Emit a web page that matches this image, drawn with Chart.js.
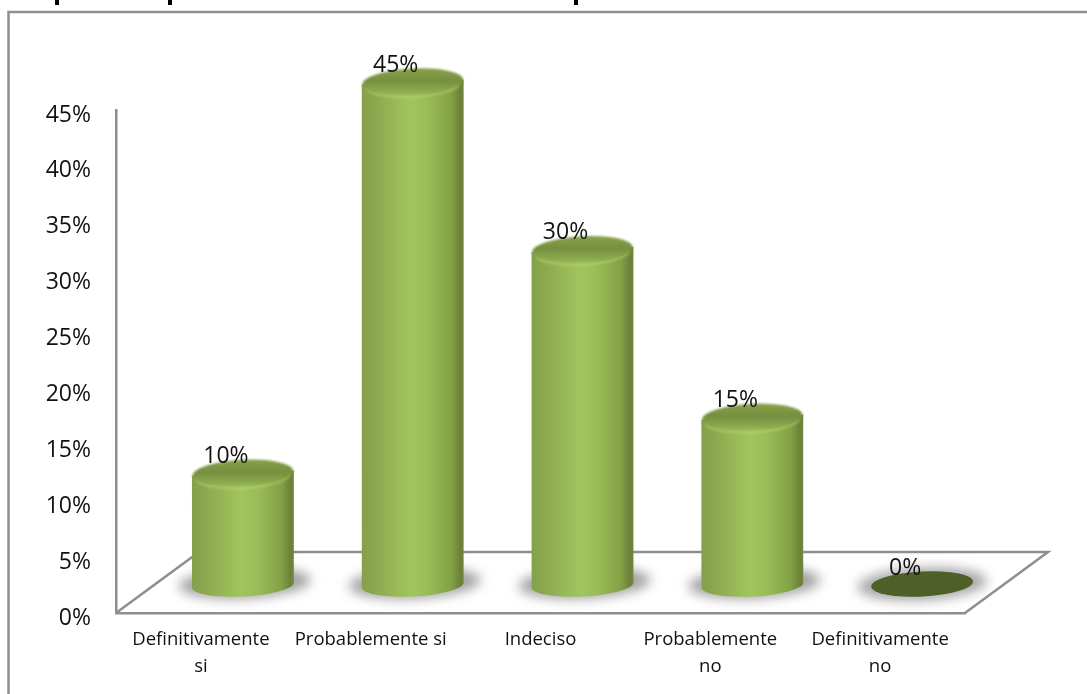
<!DOCTYPE html>
<html>
<head>
<meta charset="utf-8">
<style>
    html, body { margin: 0; background: #fff; }
    #wrap { width: 1087px; height: 694px; }
</style>
<script src="https://cdn.jsdelivr.net/npm/chart.js@4"></script>
</head>
<body>
<div id="wrap"><canvas id="chart"></canvas></div>
<script>
const categories = [
    ['Definitivamente', 'si'],
    ['Probablemente si'],
    ['Indeciso'],
    ['Probablemente', 'no'],
    ['Definitivamente', 'no']
];
const percentValues = [10, 45, 30, 15, 0];
const tickLabels = ['0%', '5%', '10%', '15%', '20%', '25%', '30%', '35%', '40%', '45%'];

const lineGrey = '#8e8e8e';
const labelFont = '"Open Sans", sans-serif';

// the columns stand mid-way back on the floor
const depthX = 42;
const depthY = -28;
const floorX = 83;
const floorY = -61;
const capRy = 13.5;
const baseRy = 11.5;
const tilt = -0.05;

function ellipsePath(ctx, cx, cy, rx, ry){
    ctx.beginPath();
    ctx.ellipse(cx, cy, rx, ry, tilt, 0, Math.PI * 2);
}

function drawShadow(ctx, cx, cy, rx, ry, colour){
    ctx.save();
    ctx.filter = 'blur(6px)';
    ctx.fillStyle = colour;
    ctx.beginPath();
    ctx.ellipse(cx, cy, rx, ry, tilt, 0, Math.PI * 2);
    ctx.fill();
    ctx.restore();
}

function drawCylinder(ctx, cx, top, base, halfW){
    const left = cx - halfW;
    const right = cx + halfW;
    const lift = Math.sin(-tilt) * halfW;

    const body = ctx.createLinearGradient(left, 0, right, 0);
    body.addColorStop(0, '#85a04a');
    body.addColorStop(0.1, '#8aa64d');
    body.addColorStop(0.48, '#a1c55e');
    body.addColorStop(0.64, '#9abd58');
    body.addColorStop(0.88, '#82a045');
    body.addColorStop(0.97, '#6b8039');
    body.addColorStop(1, '#72883c');

    ctx.save();
    ctx.filter = 'blur(0.6px)';
    ctx.fillStyle = body;
    ctx.beginPath();
    ctx.moveTo(left, top + lift);
    ctx.lineTo(right, top - lift);
    ctx.lineTo(right, base - lift);
    ctx.ellipse(cx, base, halfW, baseRy, tilt, 0, Math.PI);
    ctx.closePath();
    ctx.fill();

    // soft highlight along the lower edge of the top face
    ctx.filter = 'blur(1.5px)';
    ctx.strokeStyle = '#b6d56e';
    ctx.lineWidth = 2;
    ctx.beginPath();
    ctx.ellipse(cx, top + 1, halfW - 3, capRy, tilt, 0.25, Math.PI - 0.25);
    ctx.stroke();

    // top face
    const face = ctx.createLinearGradient(0, top - capRy, 0, top + capRy);
    face.addColorStop(0, '#88a248');
    face.addColorStop(0.45, '#758f40');
    face.addColorStop(0.85, '#8cab4e');
    face.addColorStop(1, '#9dbe59');
    ctx.filter = 'blur(0.8px)';
    ctx.fillStyle = face;
    ellipsePath(ctx, cx, top, halfW - 0.5, capRy);
    ctx.fill();
    ctx.restore();
}

const floorPlugin = {
    id: 'floor',
    beforeDatasetsDraw(chart){
        const {ctx, chartArea} = chart;
        const {left, right, bottom} = chartArea;
        ctx.save();
        ctx.strokeStyle = lineGrey;
        ctx.lineWidth = 2.5;
        ctx.beginPath();
        ctx.moveTo(left, bottom);
        ctx.lineTo(left + floorX, bottom + floorY);
        ctx.lineTo(right + floorX, bottom + floorY);
        ctx.lineTo(right, bottom);
        ctx.stroke();
        ctx.restore();
    }
};

const cylinderPlugin = {
    id: 'cylinders',
    afterDatasetsDraw(chart){
        const {ctx} = chart;
        const meta = chart.getDatasetMeta(0);

        meta.data.forEach((bar, i) => {
            const cx = bar.x + depthX;
            const top = bar.y + depthY;
            const base = bar.base + depthY;
            const halfW = bar.width / 2;

            if(percentValues[i] === 0){
                drawShadow(ctx, cx, base - 1, halfW + 14, capRy + 3, '#a8a8a8');
                ctx.fillStyle = '#4e5f29';
                ellipsePath(ctx, cx, base - 1, halfW, capRy - 1);
                ctx.fill();
            } else {
                drawShadow(ctx, cx + 2, base - 2, halfW + 15, capRy + 2, '#a2a2a2');
                drawCylinder(ctx, cx, top, base, halfW);
            }
        });

        // value labels sit on the back edge of each top face
        ctx.save();
        ctx.fillStyle = '#111';
        ctx.font = '23px ' + labelFont;
        ctx.textAlign = 'center';
        ctx.textBaseline = 'middle';
        meta.data.forEach((bar, i) => {
            ctx.fillText(percentValues[i] + '%', bar.x + depthX - 17, bar.y + depthY - 17);
        });
        ctx.restore();
    }
};

// page frame, plus what is left of the heading cropped off at the top edge
const framePlugin = {
    id: 'frame',
    beforeDraw(chart){
        const {ctx, width, height} = chart;
        ctx.save();
        ctx.fillStyle = '#fff';
        ctx.fillRect(0, 0, width, height);
        ctx.strokeStyle = lineGrey;
        ctx.lineWidth = 2.5;
        ctx.beginPath();
        ctx.moveTo(8.5, height);
        ctx.lineTo(8.5, 12);
        ctx.lineTo(width, 12);
        ctx.stroke();
        ctx.fillStyle = '#000';
        [55, 168, 574].forEach(x => ctx.fillRect(x, 0, 4, 5));
        ctx.restore();
    }
};

new Chart(document.getElementById('chart'), {
    type: 'bar',
    data: {
        labels: categories,
        datasets: [{
            data: percentValues,
            backgroundColor: 'transparent',
            categoryPercentage: 1,
            barPercentage: 0.6
        }]
    },
    options: {
        responsive: true,
        maintainAspectRatio: false,
        animation: false,
        layout: {padding: {top: 110, right: 122}},
        plugins: {legend: {display: false}, tooltip: {enabled: false}},
        scales: {
            x: {
                grid: {display: false, drawTicks: false},
                border: {color: lineGrey, width: 2.5},
                afterFit(scale){ scale.height = 81; },
                ticks: {
                    color: '#111',
                    font: {family: labelFont, size: 18.5, lineHeight: 1.42},
                    padding: 14,
                    maxRotation: 0,
                    autoSkip: false
                }
            },
            y: {
                min: 0,
                max: 45,
                grid: {display: false, drawTicks: false},
                border: {color: lineGrey, width: 2.5},
                afterFit(scale){ scale.width = 116; },
                afterBuildTicks(scale){
                    scale.ticks = tickLabels.map((t, i) => ({value: i * 5}));
                },
                ticks: {
                    color: '#111',
                    font: {family: labelFont, size: 23},
                    padding: 25,
                    labelOffset: 5,
                    callback: (value, i) => tickLabels[i]
                }
            }
        }
    },
    plugins: [framePlugin, floorPlugin, cylinderPlugin]
});
</script>
</body>
</html>
